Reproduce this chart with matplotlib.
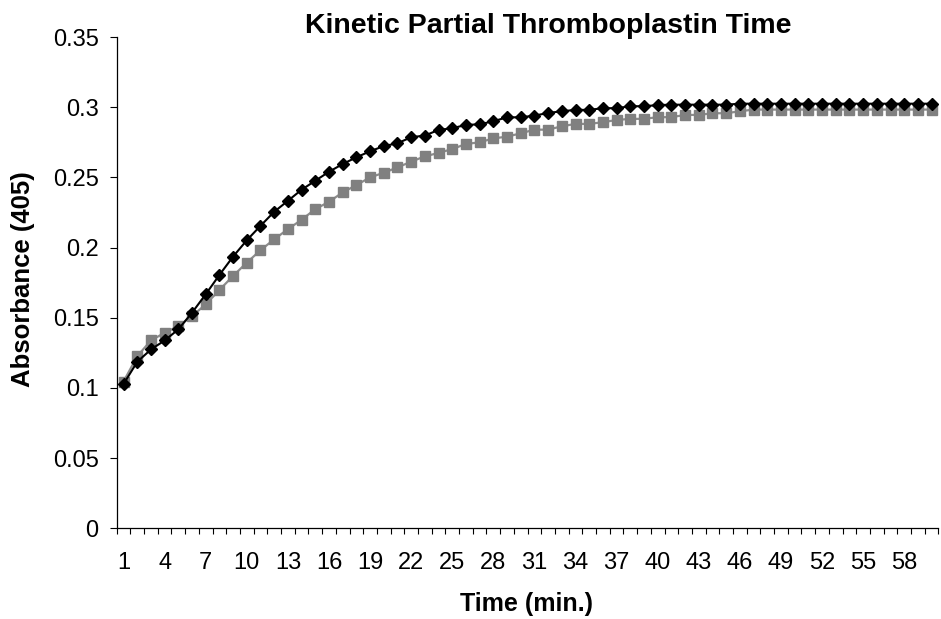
import matplotlib.pyplot as plt
import numpy as np

plt.rcParams['font.family'] = ['Liberation Sans', 'DejaVu Sans']

# Time points (min.)
minutes = list(range(1, 61))

# Absorbance at 405 nm, black diamond series
series_a = [0.1028, 0.1186, 0.1274, 0.1338, 0.1417, 0.1536, 0.1667, 0.1805, 0.1936, 0.2052,
            0.2155, 0.2255, 0.2333, 0.2412, 0.2476, 0.2540, 0.2595, 0.2643, 0.2686, 0.2723,
            0.2743, 0.2786, 0.2798, 0.2838, 0.2850, 0.2874, 0.2878, 0.2900, 0.2928, 0.2928,
            0.2940, 0.2959, 0.2971, 0.2981, 0.2981, 0.2993, 0.2993, 0.3007, 0.3007, 0.3015,
            0.3018, 0.3018, 0.3018, 0.3018, 0.3018, 0.3025, 0.3025, 0.3025, 0.3025, 0.3025,
            0.3025, 0.3025, 0.3025, 0.3025, 0.3025, 0.3025, 0.3025, 0.3025, 0.3025, 0.3025]

# Absorbance at 405 nm, gray square series
series_b = [0.1045, 0.1226, 0.1338, 0.1393, 0.1440, 0.1512, 0.1595, 0.1698, 0.1798, 0.1893,
            0.1981, 0.2059, 0.2131, 0.2198, 0.2274, 0.2326, 0.2393, 0.2445, 0.2500, 0.2533,
            0.2571, 0.2612, 0.2650, 0.2674, 0.2702, 0.2738, 0.2750, 0.2778, 0.2790, 0.2814,
            0.2840, 0.2840, 0.2864, 0.2881, 0.2881, 0.2893, 0.2909, 0.2917, 0.2917, 0.2929,
            0.2929, 0.2945, 0.2945, 0.2957, 0.2957, 0.2971, 0.2983, 0.2983, 0.2983, 0.2983,
            0.2983, 0.2983, 0.2983, 0.2983, 0.2983, 0.2983, 0.2983, 0.2983, 0.2983, 0.2983]

fig = plt.figure(figsize=(9.41, 6.19), dpi=100)
ax = fig.add_axes([0.124, 0.1465, 0.8733, 0.7937])

ax.plot(minutes, series_b, color='#8c8c8c', lw=1.6, marker='s', ms=7,
        mfc='#808080', mec='#808080', zorder=2)
ax.plot(minutes, series_a, color='black', lw=1.5, marker='D', ms=6,
        mfc='black', mec='black', zorder=3)

ax.set_xlim(0.5, 60.5)
ax.set_ylim(0, 0.35)
ax.set_yticks(np.arange(0, 0.351, 0.05))
ax.set_yticklabels(['0', '0.05', '0.1', '0.15', '0.2', '0.25', '0.3', '0.35'])
ax.set_xticks(minutes[::3])
ax.set_xticks(np.arange(0.5, 61, 1), minor=True)
ax.tick_params(axis='x', which='major', length=0, pad=17, labelsize=17)
ax.tick_params(axis='x', which='minor', length=4.5, direction='out', width=0.8)
ax.tick_params(axis='y', length=5, direction='out', width=0.8, labelsize=17, pad=8)

for s in ['top', 'right']:
    ax.spines[s].set_visible(False)
ax.spines['left'].set_linewidth(0.9)
ax.spines['bottom'].set_linewidth(0.9)

fig.text(548 / 941, 1 - 33 / 619, 'Kinetic Partial Thromboplastin Time',
         fontsize=20.5, fontweight='bold', ha='center', va='baseline')
fig.text(527 / 941, 1 - 611 / 619, 'Time (min.)',
         fontsize=18, fontweight='bold', ha='center', va='baseline')
fig.text(23 / 941, 1 - 279 / 619, 'Absorbance (405)',
         fontsize=18.5, fontweight='bold', ha='center', va='center', rotation=90)

fig.savefig('out.png', dpi=100)
